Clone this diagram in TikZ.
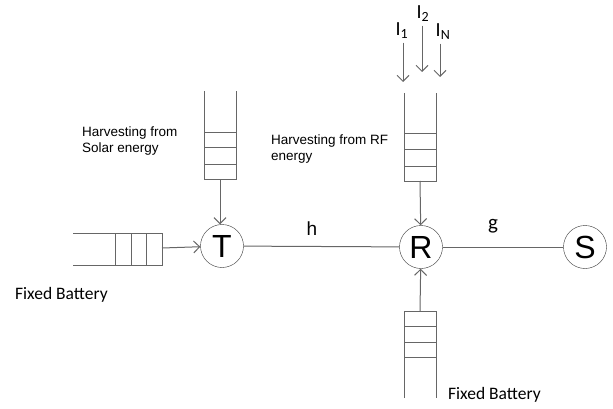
\documentclass[tikz,border=0pt]{standalone}
\usepackage{fontspec}
\setmainfont{Carlito}
\newfontfamily\arialfont{Liberation Sans}
\usetikzlibrary{arrows.meta}
\definecolor{wiregray}{rgb}{0.4,0.4,0.4}

\begin{document}
\begin{tikzpicture}[x=1pt, y=-1pt,
    term/.style={draw=black!80, circle, minimum size=43pt, inner sep=0pt, font=\arialfont\fontsize{32}{34}\selectfont},
    wire/.style={wiregray, line width=1pt},
    feed/.style={wire, -{Straight Barb[length=6pt,width=12pt]}},
    tag/.style={text=black, font=\fontsize{17.5}{20}\selectfont},
    note/.style={font=\arialfont\fontsize{13.5}{16.5}\selectfont, align=left, inner sep=0pt}]
    \useasboundingbox (0,0) rectangle (613,409);
    % nodes
    \node[term] (T) at (222,246) {T};
    \node[term] (R) at (421,247) {R};
    \node[term] (S) at (585,247) {S};
    \draw[wire] (T) -- (R);
    \draw[wire] (R) -- (S);
    \node[tag, font=\arialfont\fontsize{19}{21}\selectfont] (hlabel) at (312,229) {h};
    \node[tag, font=\fontsize{21}{23}\selectfont] (glabel) at (493,226) {g};
    % solar queue above T
    \draw[wire] (204,91) -- (204,179) -- (236,179) -- (236,91);
    \foreach \y in {133,148,164}{
      \draw[wire] (204,\y) -- (236,\y);
    }
    \coordinate (solar) at (220,179);
    \draw[feed] (solar) -- (solar |- T.north);
    \node[note, anchor=west] (solarnote) at (82,141) {Harvesting from\\Solar energy};
    % fixed battery left of T
    \draw[wire] (73,233) -- (162,233) -- (162,265) -- (73,265);
    \foreach \x in {115,131,146}{
      \draw[wire] (\x,233) -- (\x,265);
    }
    \coordinate (fixedT) at (162,248);
    \draw[feed] (fixedT) -- (T);
    \node[tag, anchor=west, inner sep=0pt] (fixedTnote) at (15,295) {Fixed Battery};
    % RF queue above R
    \draw[wire] (404,93) -- (404,181) -- (436,181) -- (436,93);
    \foreach \y in {134,150,166}{
      \draw[wire] (404,\y) -- (436,\y);
    }
    \coordinate (rf) at (420,181);
    \draw[feed] (rf) -- (R);
    \node[note, anchor=west] (rfnote) at (271,149) {Harvesting from RF\\energy};
    % interferers
    \node[tag, font=\fontsize{20}{22}\selectfont] (I1) at (402,31) {I\textsubscript{1}};
    \node[tag, font=\fontsize{20}{22}\selectfont] (I2) at (423,14) {I\textsubscript{2}};
    \node[tag, font=\fontsize{20}{22}\selectfont] (IN) at (443,32) {I\textsubscript{N}};
    \coordinate (i1) at (403,82);
    \coordinate (i2) at (422,72);
    \coordinate (iN) at (440,77);
    \draw[feed] (i1 |- I1.south) -- (i1);
    \draw[feed] (i2 |- I2.south) -- (i2);
    \draw[feed] (iN |- IN.south) -- (iN);
    % fixed battery below R
    \draw[wire] (404,398) -- (404,311) -- (436,311) -- (436,398);
    \foreach \y in {326,342,357}{
      \draw[wire] (404,\y) -- (436,\y);
    }
    \coordinate (fixedR) at (420,311);
    \draw[feed] (fixedR) -- (R);
    \node[tag, anchor=west, inner sep=0pt] (fixedRnote) at (448,395) {Fixed Battery};
\end{tikzpicture}
\end{document}
